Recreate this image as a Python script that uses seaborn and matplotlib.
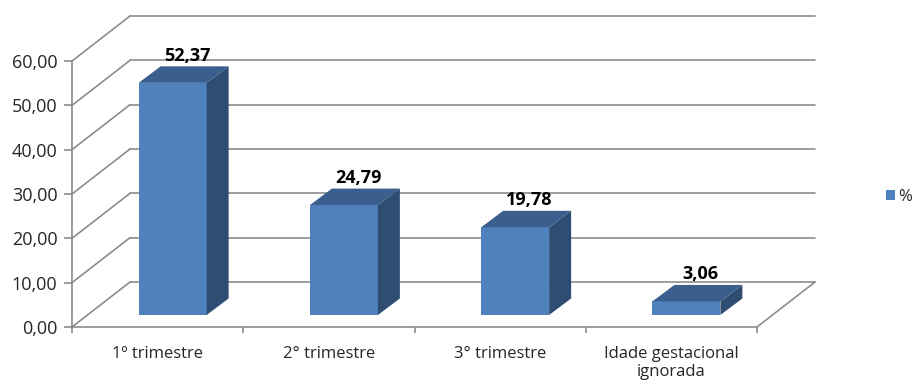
import matplotlib
matplotlib.use("Agg")
import matplotlib.pyplot as plt
from matplotlib.patches import Polygon
from matplotlib.ticker import FuncFormatter
import seaborn as sns
import pandas as pd

categories = ["1º trimestre", "2° trimestre", "3° trimestre", "Idade gestacional\nignorada"]
values = [52.37, 24.79, 19.78, 3.06]
value_labels = ["52,37", "24,79", "19,78", "3,06"]
y_ticks = [0, 10, 20, 30, 40, 50, 60]
series_name = "%"

sns.set_theme(style="white")
plt.rcParams["font.family"] = ["Open Sans", "DejaVu Sans"]

W, H = 917, 387
fig = plt.figure(figsize=(W / 100, H / 100), dpi=100)

# plot area in pixels: front plane x 72..757, y 327 (0) .. 61 (60); back wall offset (58, 45) px
px_per_cat = 171.25
px_per_val = 4.433
DX = 58 / px_per_cat          # wall depth in category units
DY = 45 / px_per_val          # wall depth in value units
x_left = 72
x_right = 72 + px_per_cat * 4 + 58
y_bottom = 327
y_top = 327 - px_per_val * 60 - 45

ax = fig.add_axes([x_left / W, (H - y_bottom) / H,
                   (x_right - x_left) / W, (y_bottom - y_top) / H])

BLUE_FRONT = "#4F81BD"
BLUE_TOP = "#3A5F8F"
BLUE_SIDE = "#2F4D73"
GRID = "#8C8C8C"

df = pd.DataFrame({"cat": categories, "val": values})
bar_w = 68 / px_per_cat
sns.barplot(data=df, x="cat", y="val", color=BLUE_FRONT, width=bar_w,
            saturation=1, label=series_name, ax=ax, zorder=3)

# bar placement inside the floor depth and bar's own depth
shift_x = 15 / px_per_cat
shift_y = 12 / px_per_val
bdx = 22 / px_per_cat
bdy = 16.5 / px_per_val

for p, lab in zip(ax.patches, value_labels):
    x0 = p.get_x() + shift_x
    h = p.get_height()
    p.set_x(x0)
    p.set_y(shift_y)
    p.set_linewidth(0)
    x1 = x0 + p.get_width()
    y0 = shift_y
    y1 = shift_y + h
    top = Polygon([(x0, y1), (x1, y1), (x1 + bdx, y1 + bdy), (x0 + bdx, y1 + bdy)],
                  closed=True, facecolor=BLUE_TOP, edgecolor="none", zorder=3)
    side = Polygon([(x1, y0), (x1 + bdx, y0 + bdy), (x1 + bdx, y1 + bdy), (x1, y1)],
                   closed=True, facecolor=BLUE_SIDE, edgecolor="none", zorder=3)
    ax.add_patch(top)
    ax.add_patch(side)
    ax.text((x0 + x1) / 2 + bdx / 2 + 0.02, y1 + bdy + 0.4, lab, ha="center", va="bottom",
            fontsize=13, fontweight="bold", color="black", zorder=5)

# walls: side diagonals and back-wall gridlines
for v in y_ticks:
    ax.plot([-0.5, -0.5 + DX], [v, v + DY], color=GRID, lw=1.2, zorder=1, clip_on=False)
    ax.plot([-0.5 + DX, 3.5 + DX], [v + DY, v + DY], color=GRID, lw=1.2, zorder=1, clip_on=False)
# floor right edge
ax.plot([3.5, 3.5 + DX], [0, DY], color=GRID, lw=1.2, zorder=1, clip_on=False)

ax.set_xlim(-0.5, 3.5 + DX)
ax.set_ylim(0, 60 + DY)

for s in ["top", "right"]:
    ax.spines[s].set_visible(False)
for s in ["left", "bottom"]:
    ax.spines[s].set_color(GRID)
    ax.spines[s].set_linewidth(1.2)
ax.spines["left"].set_bounds(0, 60)
ax.spines["bottom"].set_bounds(-0.5, 3.5)

ax.set_yticks(y_ticks)
ax.yaxis.set_major_formatter(FuncFormatter(lambda v, _: f"{v:.2f}".replace(".", ",")))
ax.tick_params(axis="y", direction="out", length=5.5, width=1.2, color=GRID,
               labelsize=13, pad=5, left=True)

ax.set_xticks(range(len(categories)))
ax.set_xticklabels(categories, linespacing=1.15)
ax.set_xticks([-0.5, 0.5, 1.5, 2.5, 3.5], minor=True)
ax.tick_params(axis="x", which="major", length=0, labelsize=12, pad=14)
ax.tick_params(axis="x", which="minor", direction="out", length=4.5, width=1.2,
               color=GRID, bottom=True)
ax.set_xlabel("")
ax.set_ylabel("")
ax.grid(False)
ax.set_facecolor("none")

leg = ax.legend(loc="center left", bbox_to_anchor=(871 / W, 1 - 197 / H),
                bbox_transform=fig.transFigure, frameon=False, fontsize=12,
                handlelength=0.55, handleheight=0.55, handletextpad=0.2)

fig.savefig("out.png", dpi=100)
